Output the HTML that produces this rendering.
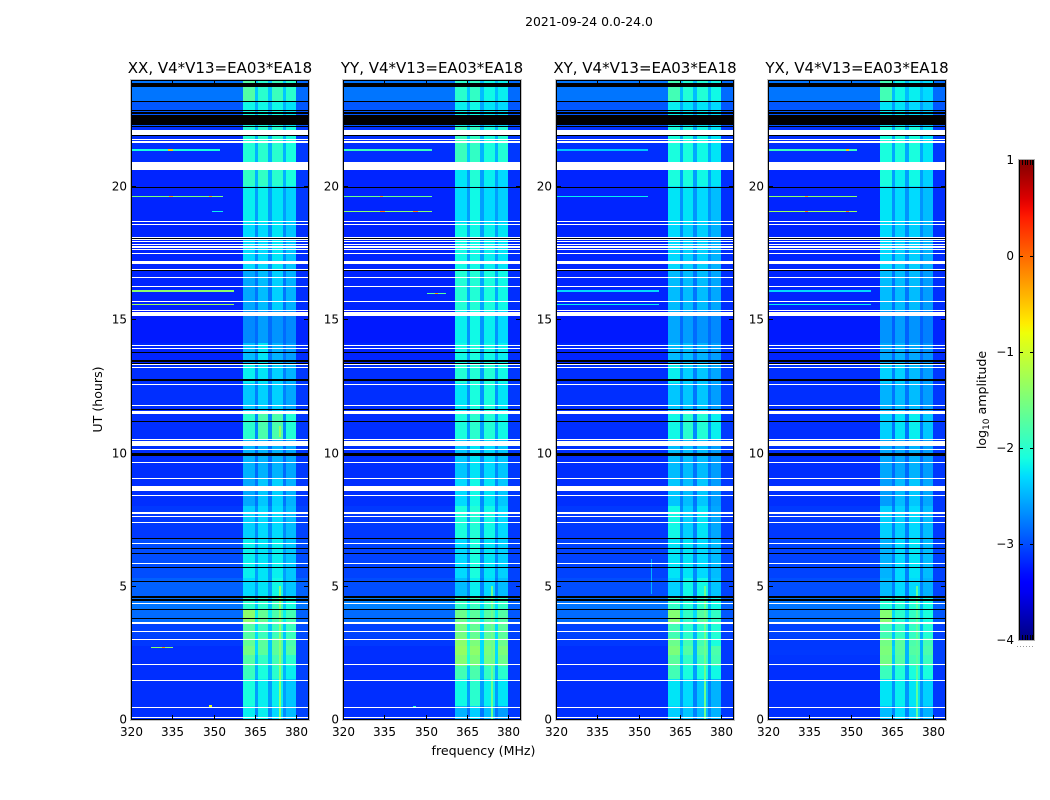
<!DOCTYPE html>
<html>
<head>
<meta charset="utf-8">
<title>2021-09-24 0.0-24.0</title>
<style>
html,body{margin:0;padding:0;background:#fff;width:1050px;height:800px;overflow:hidden}
svg{display:block}
text{font-family:"DejaVu Sans","Liberation Sans",sans-serif;fill:#000}
</style>
</head>
<body>
<svg id="fig" xmlns="http://www.w3.org/2000/svg" width="1050" height="800" viewBox="0 0 1050 800">
<defs><linearGradient id="jetGrad" x1="0" y1="1" x2="0" y2="0"></linearGradient></defs>
<text x="589" y="26" font-size="12.4" text-anchor="middle">2021-09-24 0.0-24.0</text>
<text x="0" y="0" font-size="12.6" text-anchor="middle" transform="translate(102,399.5) rotate(-90)">UT (hours)</text>
<text x="483.5" y="755" font-size="12.6" text-anchor="middle">frequency (MHz)</text>
<text x="0" y="0" font-size="12.6" text-anchor="middle" transform="translate(986,400) rotate(-90)">log<tspan font-size="9" dy="3">10</tspan><tspan dy="-3"> amplitude</tspan></text>
</svg>
<script>
// ---- categories and tick labels ----
var panelTitles = ["XX, V4*V13=EA03*EA18","YY, V4*V13=EA03*EA18","XY, V4*V13=EA03*EA18","YX, V4*V13=EA03*EA18"];
var xTicks = [320,335,350,365,380];
var yTicks = [0,5,10,15,20];
var cbarTicks = [-4,-3,-2,-1,0,1];

// ---- heatmap bin edges: frequency in MHz, time in hours ----
var freqEdges = [320,360.4,364.8,365.8,369.5,371,374.9,376,379.6,384];
var timeEdges = [0,0.5,1.5,2,2.4,2.75,3.05,3.6,4.1,4.6,5.3,6.8,8,9,10.5,11.5,12.6,13.3,14.1,15.3,16.9,18.6,20,20.9,22.2,23.2,23.94];

// ---- log10 amplitude per time block (rows, bottom to top) and frequency bin (columns) ----
var heatXX = [
[-3.15,-2.20,-2.70,-2.20,-2.70,-2.30,-2.70,-2.45,-3.05],
[-3.15,-2.10,-2.60,-2.20,-2.60,-2.20,-2.60,-2.40,-3.05],
[-3.15,-1.90,-2.50,-2.10,-2.50,-2.00,-2.50,-2.20,-3.05],
[-3.15,-1.75,-2.40,-1.95,-2.40,-1.85,-2.40,-2.00,-3.05],
[-3.15,-1.55,-2.30,-1.70,-2.40,-1.70,-2.40,-1.75,-3.05],
[-3.10,-1.65,-2.30,-1.70,-2.40,-1.70,-2.40,-1.80,-3.05],
[-3.05,-1.75,-2.30,-1.90,-2.40,-1.90,-2.40,-1.90,-3.00],
[-2.85,-1.40,-2.20,-1.65,-2.20,-1.80,-2.20,-1.85,-2.90],
[-2.80,-2.00,-2.40,-2.00,-2.40,-1.90,-2.40,-2.10,-2.80],
[-2.90,-2.30,-2.60,-2.25,-2.60,-2.15,-2.60,-2.40,-2.90],
[-3.00,-2.20,-2.60,-2.25,-2.60,-2.20,-2.60,-2.40,-3.00],
[-3.10,-2.35,-2.70,-2.30,-2.70,-2.30,-2.70,-2.45,-3.05],
[-3.15,-2.55,-2.80,-2.40,-2.80,-2.35,-2.80,-2.50,-3.10],
[-3.15,-2.50,-2.85,-2.50,-2.85,-2.50,-2.85,-2.55,-3.10],
[-3.15,-2.00,-2.70,-1.80,-2.70,-1.80,-2.70,-2.05,-3.10],
[-3.15,-2.40,-2.75,-2.35,-2.75,-2.35,-2.75,-2.55,-3.10],
[-3.15,-2.20,-2.70,-2.25,-2.75,-2.35,-2.75,-2.50,-3.10],
[-3.20,-2.45,-2.75,-2.25,-2.80,-2.50,-2.80,-2.60,-3.15],
[-3.25,-2.70,-2.85,-2.60,-2.85,-2.65,-2.85,-2.70,-3.20],
[-3.20,-2.55,-2.80,-2.45,-2.80,-2.35,-2.80,-2.50,-3.15],
[-3.20,-2.30,-2.70,-2.30,-2.70,-2.25,-2.70,-2.40,-3.15],
[-3.20,-2.20,-2.60,-2.20,-2.60,-2.25,-2.60,-2.35,-3.10],
[-3.20,-1.95,-2.50,-1.95,-2.50,-2.00,-2.50,-2.10,-3.10],
[-3.15,-2.05,-2.50,-2.00,-2.50,-2.00,-2.50,-2.10,-3.10],
[-2.95,-2.15,-2.50,-2.15,-2.50,-2.15,-2.50,-2.25,-2.95],
[-2.80,-1.75,-2.40,-2.00,-2.40,-1.90,-2.40,-2.00,-2.85]];
var heatYY = [
[-3.15,-2.50,-2.80,-2.35,-2.80,-2.45,-2.80,-2.60,-3.10],
[-3.15,-2.15,-2.60,-2.00,-2.60,-2.20,-2.60,-2.25,-3.10],
[-3.15,-1.85,-2.40,-1.80,-2.50,-1.95,-2.50,-2.00,-3.10],
[-3.15,-1.45,-2.10,-1.50,-2.30,-1.55,-2.30,-1.60,-3.10],
[-3.15,-1.35,-2.00,-1.40,-2.30,-1.50,-2.30,-1.50,-3.10],
[-3.10,-1.40,-2.10,-1.50,-2.30,-1.55,-2.30,-1.60,-3.10],
[-3.05,-1.55,-2.20,-1.65,-2.30,-1.70,-2.30,-1.70,-3.05],
[-2.85,-1.60,-2.10,-1.70,-2.20,-1.75,-2.20,-1.75,-2.95],
[-2.75,-1.95,-2.30,-1.90,-2.30,-1.95,-2.30,-1.95,-2.90],
[-3.00,-2.45,-2.70,-2.20,-2.75,-2.30,-2.75,-2.45,-3.05],
[-3.05,-2.30,-2.65,-2.10,-2.70,-2.25,-2.70,-2.35,-3.05],
[-3.10,-2.10,-2.60,-2.05,-2.65,-2.15,-2.65,-2.30,-3.10],
[-3.15,-2.30,-2.70,-2.15,-2.70,-2.25,-2.70,-2.40,-3.10],
[-3.15,-2.40,-2.70,-2.25,-2.70,-2.30,-2.70,-2.40,-3.10],
[-3.15,-2.10,-2.60,-2.00,-2.60,-2.05,-2.60,-2.15,-3.10],
[-3.15,-2.25,-2.65,-2.10,-2.65,-2.10,-2.65,-2.25,-3.10],
[-3.15,-2.05,-2.60,-2.05,-2.60,-2.05,-2.60,-2.15,-3.10],
[-3.20,-2.15,-2.60,-2.10,-2.60,-2.15,-2.60,-2.20,-3.15],
[-3.25,-2.20,-2.65,-2.15,-2.65,-2.20,-2.65,-2.30,-3.20],
[-3.20,-2.05,-2.55,-2.05,-2.55,-2.10,-2.55,-2.15,-3.15],
[-3.20,-2.15,-2.60,-2.15,-2.60,-2.20,-2.60,-2.25,-3.15],
[-3.20,-2.30,-2.60,-2.15,-2.60,-2.30,-2.60,-2.35,-3.15],
[-3.20,-2.25,-2.60,-2.05,-2.60,-2.20,-2.60,-2.30,-3.15],
[-3.15,-1.90,-2.40,-1.95,-2.50,-2.10,-2.50,-2.05,-3.10],
[-2.95,-2.20,-2.55,-2.15,-2.55,-2.25,-2.55,-2.30,-2.95],
[-2.80,-2.00,-2.40,-1.95,-2.45,-2.15,-2.45,-2.20,-2.85]];
var heatXY = [
[-3.15,-2.35,-2.70,-2.40,-2.75,-2.45,-2.75,-2.50,-3.10],
[-3.15,-2.25,-2.65,-2.30,-2.75,-2.40,-2.75,-2.50,-3.10],
[-3.15,-1.85,-2.50,-2.10,-2.60,-2.10,-2.60,-2.15,-3.10],
[-3.15,-1.70,-2.40,-1.95,-2.50,-1.90,-2.50,-1.85,-3.10],
[-3.15,-1.50,-2.30,-1.75,-2.50,-1.75,-2.50,-1.80,-3.10],
[-3.10,-1.60,-2.40,-1.85,-2.50,-1.85,-2.50,-2.10,-3.10],
[-3.05,-1.85,-2.40,-2.00,-2.50,-2.00,-2.50,-2.05,-3.05],
[-2.85,-1.45,-2.30,-1.95,-2.30,-1.75,-2.30,-1.95,-2.95],
[-2.80,-1.95,-2.40,-2.05,-2.50,-2.00,-2.50,-2.15,-2.90],
[-3.00,-2.35,-2.70,-2.15,-2.70,-2.15,-2.70,-2.40,-3.05],
[-3.05,-2.25,-2.70,-2.25,-2.70,-2.30,-2.70,-2.45,-3.05],
[-3.10,-2.15,-2.70,-2.35,-2.75,-2.25,-2.75,-2.55,-3.10],
[-3.15,-2.40,-2.75,-2.45,-2.80,-2.40,-2.80,-2.60,-3.10],
[-3.15,-2.45,-2.80,-2.45,-2.80,-2.45,-2.80,-2.60,-3.10],
[-3.15,-2.15,-2.70,-2.00,-2.70,-2.05,-2.70,-2.20,-3.10],
[-3.15,-2.40,-2.75,-2.40,-2.80,-2.40,-2.80,-2.60,-3.10],
[-3.15,-2.20,-2.70,-2.35,-2.75,-2.40,-2.75,-2.55,-3.10],
[-3.20,-2.45,-2.75,-2.45,-2.80,-2.50,-2.80,-2.60,-3.15],
[-3.25,-2.55,-2.85,-2.60,-2.85,-2.65,-2.85,-2.70,-3.20],
[-3.20,-2.45,-2.80,-2.45,-2.80,-2.45,-2.80,-2.55,-3.15],
[-3.20,-2.30,-2.70,-2.35,-2.70,-2.35,-2.70,-2.50,-3.15],
[-3.20,-2.25,-2.65,-2.25,-2.65,-2.30,-2.65,-2.45,-3.15],
[-3.20,-2.10,-2.60,-2.10,-2.60,-2.15,-2.60,-2.25,-3.15],
[-3.15,-2.10,-2.55,-2.10,-2.55,-2.15,-2.55,-2.25,-3.10],
[-2.95,-2.20,-2.55,-2.25,-2.60,-2.25,-2.60,-2.30,-2.95],
[-2.80,-1.85,-2.45,-2.05,-2.45,-2.05,-2.45,-2.15,-2.85]];
var heatYX = [
[-3.15,-2.45,-2.75,-2.30,-2.75,-2.35,-2.75,-2.50,-3.10],
[-3.15,-2.25,-2.65,-2.20,-2.65,-2.25,-2.65,-2.35,-3.10],
[-3.15,-1.90,-2.55,-2.05,-2.60,-2.10,-2.60,-2.10,-3.10],
[-3.12,-1.55,-2.40,-1.75,-2.50,-1.85,-2.50,-1.90,-3.05],
[-3.10,-1.50,-2.35,-1.70,-2.50,-1.75,-2.50,-1.80,-3.05],
[-3.10,-1.55,-2.40,-1.70,-2.50,-1.80,-2.50,-1.85,-3.05],
[-3.05,-1.85,-2.40,-1.95,-2.50,-1.95,-2.50,-2.05,-3.05],
[-2.85,-1.45,-2.30,-2.00,-2.40,-1.95,-2.40,-2.10,-2.95],
[-2.80,-2.05,-2.45,-2.05,-2.50,-2.05,-2.50,-2.15,-2.90],
[-3.00,-2.45,-2.75,-2.30,-2.75,-2.30,-2.75,-2.50,-3.05],
[-3.05,-2.50,-2.75,-2.30,-2.75,-2.25,-2.75,-2.45,-3.05],
[-3.10,-2.35,-2.75,-2.35,-2.75,-2.30,-2.75,-2.45,-3.10],
[-3.15,-2.60,-2.80,-2.45,-2.80,-2.40,-2.80,-2.55,-3.10],
[-3.15,-2.55,-2.85,-2.55,-2.85,-2.50,-2.85,-2.60,-3.10],
[-3.15,-2.35,-2.80,-2.25,-2.80,-2.20,-2.80,-2.40,-3.10],
[-3.15,-2.50,-2.80,-2.45,-2.80,-2.45,-2.80,-2.60,-3.10],
[-3.15,-2.35,-2.75,-2.35,-2.80,-2.45,-2.80,-2.60,-3.10],
[-3.20,-2.55,-2.85,-2.50,-2.85,-2.55,-2.85,-2.65,-3.15],
[-3.25,-2.65,-2.90,-2.60,-2.90,-2.65,-2.90,-2.75,-3.20],
[-3.20,-2.45,-2.80,-2.45,-2.80,-2.45,-2.80,-2.60,-3.15],
[-3.20,-2.30,-2.70,-2.35,-2.70,-2.35,-2.70,-2.50,-3.15],
[-3.20,-2.25,-2.65,-2.30,-2.65,-2.30,-2.65,-2.45,-3.15],
[-3.20,-2.10,-2.60,-2.20,-2.60,-2.15,-2.60,-2.35,-3.15],
[-3.15,-2.10,-2.55,-2.10,-2.55,-2.10,-2.55,-2.25,-3.10],
[-2.95,-2.25,-2.60,-2.25,-2.60,-2.30,-2.60,-2.40,-2.95],
[-2.80,-1.85,-2.45,-2.15,-2.45,-2.20,-2.45,-2.30,-2.85]];
var panelHeat = [heatXX, heatYY, heatXY, heatYX];

// ---- flagged integrations: [from hour, to hour] ----
var whiteRows = [[21.92,22.12],[21.74,21.78],[21.63,21.67],[20.60,20.91],[18.64,18.67],[18.54,18.57],[18.06,18.10],[17.98,18.01],[17.88,17.92],[17.79,17.83],[17.69,17.73],[17.62,17.65],[17.47,17.50],[17.17,17.20],[17.09,17.13],[16.87,16.90],[16.55,16.59],[16.20,16.24],[15.63,15.67],[15.30,15.34],[15.12,15.27],[13.99,14.03],[13.89,13.93],[13.28,13.31],[13.18,13.21],[12.54,12.58],[11.73,11.77],[11.44,11.57],[10.47,10.52],[10.25,10.42],[10.09,10.13],[9.60,9.64],[9.00,9.04],[8.57,8.75],[8.37,8.41],[7.69,7.76],[7.57,7.63],[7.35,7.38],[6.56,6.59],[5.82,5.86],[4.31,4.34],[3.56,3.64],[3.26,3.30],[2.96,3.00],[2.02,2.06],[1.43,1.47],[0.41,0.45],[0.03,0.06]];
var blackRows = [[23.73,23.88],[23.15,23.19],[22.81,22.85],[22.70,22.79],[22.60,22.66],[22.29,22.58],[22.22,22.26],[21.86,21.90],[19.92,19.95],[18.02,18.05],[16.81,16.85],[13.74,13.78],[13.40,13.46],[13.33,13.37],[12.67,12.75],[11.61,11.65],[11.14,11.18],[9.85,9.98],[6.75,6.79],[6.39,6.43],[6.19,6.23],[5.65,5.69],[5.14,5.18],[4.54,4.63],[4.43,4.49],[4.08,4.12],[3.74,3.78]];

// ---- narrow interference, one entry per streak, drawn in order ----
var rfiPanel =    [0,0,0,0,0,0,0,0,0, 0,0,0,0, 1,1,1,1,1,1, 1,1,1,1, 2,2,2,2,2,2, 3,3,3,3,3,3, 3,3,3,3];
var rfiHourFrom = [21.33,19.57,19.01,16.04,15.56,2.65,0.46,0,10.6, 21.33,19.57,19.57,2.65, 21.33,19.57,19.01,15.96,0,0.44, 19.57,19.01,19.01,15.96, 21.33,19.57,16.04,15.56,0,4.7, 21.33,19.57,19.01,16.04,15.56,0, 19.57,19.01,19.01,21.33];
var rfiHourTo =   [21.37,19.61,19.05,16.08,15.59,2.69,0.52,5.0,11.0, 21.37,19.61,19.61,2.69, 21.37,19.61,19.05,16.00,5.0,0.48, 19.61,19.05,19.05,16.00, 21.37,19.61,16.08,15.59,5.0,6.0, 21.37,19.61,19.05,16.08,15.59,5.0, 19.61,19.05,19.05,21.37];
var rfiFreqFrom = [320,320,349,320,320,327,348,373.6,373.6, 333,333.5,348,331, 320,320,320,350,373.6,345, 333,333,345,353, 320,320,320,320,373.6,354.2, 320,320,320,320,320,373.6, 333,333,348,348];
var rfiFreqTo =   [352,353,353,357,357,335,349,374.1,374.1, 335,335,349,332, 352,352,352,357,374.1,346, 334,335,347,354, 353,353,357,357,374.1,354.6, 352,352,352,357,357,374.1, 334,334,349,349];
var rfiValue =    [-2.1,-1.5,-2.2,-1.4,-1.3,-1.4,-0.9,-1.4,-1.3, -0.5,-0.3,-0.3,-0.2, -1.9,-1.6,-1.4,-1.7,-1.6,-2.0, -0.3,-0.1,-0.1,-0.2, -2.4,-2.2,-2.3,-2.2,-1.6,-2.5, -1.9,-1.4,-1.3,-2.3,-2.2,-1.7, -0.3,-0.1,-0.1,-0.5];

// ---- colour scale limits ----
var colorMin = -4;
var colorMax = 1;

var NS = 'http://www.w3.org/2000/svg';
var fig = document.getElementById('fig');
var panelLeft = [132,344,557,769];
var panelW = 176, plotTop = 81, plotBottom = 719;
var yDomainMax = 23.94, xDomainMin = 320, xDomainMax = 384;

function xScale(panel, mhz){ return panelLeft[panel] + (mhz - xDomainMin) / (xDomainMax - xDomainMin) * panelW; }
function yScale(hour){ return plotBottom - hour / yDomainMax * (plotBottom - plotTop); }
function cbarY(v){ return 640 - (v - colorMin) / (colorMax - colorMin) * 480; }

function jetChannel(t, pts){
  for (var i = 1; i < pts.length; i++) {
    if (t <= pts[i][0]) {
      var a = pts[i-1], b = pts[i];
      return a[1] + (b[1]-a[1]) * (t-a[0]) / (b[0]-a[0]);
    }
  }
  return pts[pts.length-1][1];
}
function jet(v){
  var t = Math.max(0, Math.min(1, (v - colorMin) / (colorMax - colorMin)));
  var r = jetChannel(t, [[0,0],[0.35,0],[0.66,1],[0.89,1],[1,0.5]]);
  var g = jetChannel(t, [[0,0],[0.125,0],[0.375,1],[0.64,1],[0.91,0],[1,0]]);
  var b = jetChannel(t, [[0,0.5],[0.11,1],[0.34,1],[0.65,0],[1,0]]);
  return 'rgb(' + Math.round(r*255) + ',' + Math.round(g*255) + ',' + Math.round(b*255) + ')';
}
function make(tag, attrs, parent){
  var el = document.createElementNS(NS, tag);
  for (var k in attrs) el.setAttribute(k, attrs[k]);
  (parent || fig).appendChild(el);
  return el;
}
function band(parent, x0, x1, hourFrom, hourTo, fill){
  var yTop = Math.round(yScale(hourTo));
  var yBot = Math.round(yScale(hourFrom));
  if (yBot <= yTop) yBot = yTop + 1;
  return make('rect', {x:x0, y:yTop, width:x1-x0, height:yBot-yTop, fill:fill, 'shape-rendering':'crispEdges'}, parent);
}

panelTitles.forEach(function(title, p){
  var left = panelLeft[p], right = left + panelW;
  var g = make('g', {});
  
  

  var matrix = panelHeat[p];
  for (var r = 0; r < matrix.length; r++) {
    for (var c = 0; c < matrix[r].length; c++) {
      var x0 = Math.round(xScale(p, freqEdges[c]));
      var x1 = Math.round(xScale(p, freqEdges[c+1]));
      var cell = band(g, x0, x1, timeEdges[r], timeEdges[r+1], jet(matrix[r][c]));
      
      
    }
  }
  rfiValue.forEach(function(v, i){
    if (rfiPanel[i] !== p) return;
    var x0 = Math.round(xScale(p, rfiFreqFrom[i]));
    var x1 = Math.max(x0 + 1, Math.round(xScale(p, rfiFreqTo[i])));
    var line = band(g, x0, x1, rfiHourFrom[i], rfiHourTo[i], jet(v));
    
    
  });
  whiteRows.forEach(function(w){
    var row = band(g, left, right, w[0], w[1], '#ffffff');
    
    
  });
  blackRows.forEach(function(w){
    var row = band(g, left, right, w[0], w[1], '#000000');
    
    
  });

  var outer = make('rect', {x:left-1.5, y:plotTop-1.5, width:panelW+3, height:plotBottom-plotTop+3, fill:'none', stroke:'#c4c4c4', 'stroke-width':1}, g);
  
  
  var frame = make('rect', {x:left-0.5, y:plotTop-0.5, width:panelW+1, height:plotBottom-plotTop+1, fill:'none', stroke:'#000', 'stroke-width':1}, g);
  
  

  var t = make('text', {x:left + panelW/2, y:73, 'font-size':15, 'text-anchor':'middle'}, g);
  t.textContent = title;
  
  

  xTicks.forEach(function(v){
    var x = Math.round(xScale(p, v)) - 0.5;
    var tb = make('line', {x1:x, x2:x, y1:plotBottom, y2:plotBottom-4, stroke:'#000', 'stroke-width':1}, g);
    
    
    var tt = make('line', {x1:x, x2:x, y1:plotTop, y2:plotTop+4, stroke:'#000', 'stroke-width':1}, g);
    
    
    var lab = make('text', {x:x, y:736, 'font-size':12, 'text-anchor':'middle'}, g);
    lab.textContent = String(v);
    
    
  });
  yTicks.forEach(function(v){
    var y = Math.round(yScale(v)) + 0.5;
    var tl = make('line', {x1:left, x2:left+4, y1:y, y2:y, stroke:'#000', 'stroke-width':1}, g);
    
    
    var tr = make('line', {x1:right-4, x2:right, y1:y, y2:y, stroke:'#000', 'stroke-width':1}, g);
    
    
    var lab = make('text', {x:left-5, y:y+4, 'font-size':12, 'text-anchor':'end'}, g);
    lab.textContent = String(v);
    
    
  });
});

// ---- colorbar ----
var grad = document.getElementById('jetGrad');
for (var s = 0; s <= 50; s++) {
  make('stop', {offset:(s/50), 'stop-color':jet(colorMin + (colorMax-colorMin)*s/50)}, grad);
}
var cb = make('g', {});


var ramp = make('rect', {x:1019, y:160, width:15, height:480, fill:'url(#jetGrad)'}, cb);


var halo = make('rect', {x:1018.5, y:159.5, width:16, height:481, fill:'none', stroke:'#b0b0b0', 'stroke-width':1}, cb);


var cbEdgeL = make('line', {x1:1019.5, x2:1019.5, y1:160, y2:640, stroke:'#000', 'stroke-width':1}, cb);


var cbEdgeR = make('line', {x1:1033.5, x2:1033.5, y1:160, y2:640, stroke:'#000', 'stroke-width':1}, cb);


cbarTicks.forEach(function(v){
  var y = Math.round(cbarY(v)) + 0.5;
  if (v > colorMin && v < colorMax) {
    var tl = make('line', {x1:1019, x2:1023, y1:y, y2:y, stroke:'#000', 'stroke-width':1}, cb);
    
    
    var tr = make('line', {x1:1030, x2:1034, y1:y, y2:y, stroke:'#000', 'stroke-width':1}, cb);
    
    
  }
  var lab = make('text', {x:1014, y:y+3.5, 'font-size':12, 'text-anchor':'end'}, cb);
  lab.textContent = (v < 0 ? '\u2212' + Math.abs(v) : String(v));
  
  
});
[1022.5,1025.5,1027.5,1030.5,1032.5].forEach(function(x){
  var a = make('line', {x1:x, x2:x, y1:160, y2:165, stroke:'#000', 'stroke-width':1}, cb);
  
  
  var b = make('line', {x1:x, x2:x, y1:635, y2:640, stroke:'#000', 'stroke-width':1}, cb);
  
  
});
[1017,1020,1023,1026,1029,1032].forEach(function(x){
  var d = make('rect', {x:x, y:646, width:1, height:1, fill:'#999'}, cb);
  
  
});
</script>
</body>
</html>
